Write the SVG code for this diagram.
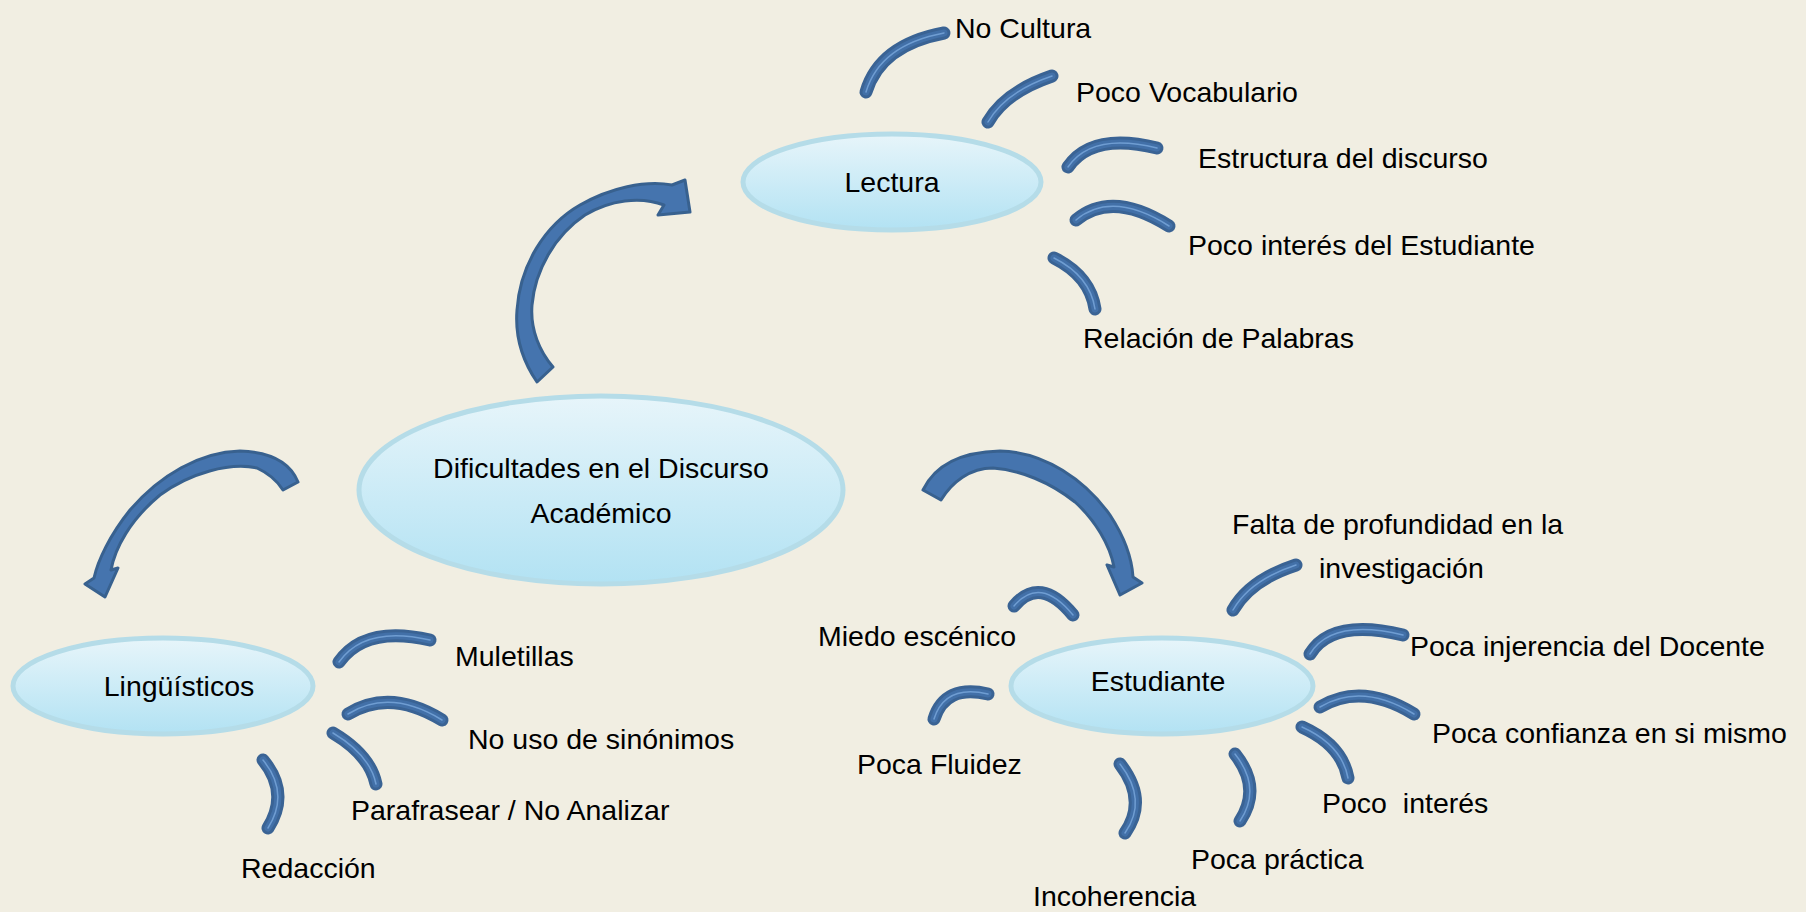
<svg xmlns="http://www.w3.org/2000/svg" width="1806" height="912" viewBox="0 0 1806 912">
<defs>
<linearGradient id="ellg" x1="0" y1="0" x2="0" y2="1">
<stop offset="0" stop-color="#E7F5FA"/>
<stop offset="1" stop-color="#B2E2F3"/>
</linearGradient>
<style>
.node ellipse{fill:url(#ellg);stroke:#B5DCE8;stroke-width:5}
text{font-family:"Liberation Sans",Arial,sans-serif;font-size:28.5px;fill:#000}
.c{text-anchor:middle}
.big{fill:#4574AE;stroke:#38618F;stroke-width:3;stroke-linejoin:round}
.s1{fill:none;stroke:#3A6394;stroke-width:13;stroke-linecap:round}
.s2{fill:none;stroke:#4270A8;stroke-width:7;stroke-linecap:round}
.s3{fill:none;stroke:#6F9DD2;stroke-width:1.5;stroke-linecap:round}
</style>
<g id="small">
<path d="M866,92 Q880,45 944,33"/>
<path d="M988,122 Q1005,92 1052,76"/>
<path d="M1068,167 Q1092,132 1157,148"/>
<path d="M1076,220 Q1112,190 1169,226"/>
<path d="M1054,258 Q1090,276 1095,309"/>
<path d="M339,662 Q365,625 430,640"/>
<path d="M348,714 Q390,688 442,720"/>
<path d="M333,733 Q370,755 376,784"/>
<path d="M263,760 Q290,793 268,828"/>
<path d="M1014,606 Q1040,575 1073,615"/>
<path d="M934,719 Q945,684 988,694"/>
<path d="M1233,610 Q1250,580 1296,565"/>
<path d="M1310,654 Q1332,618 1403,635"/>
<path d="M1320,707 Q1362,682 1414,714"/>
<path d="M1302,727 Q1342,745 1348,778"/>
<path d="M1235,754 Q1262,788 1240,821"/>
<path d="M1120,764 Q1148,800 1125,833"/>
</g>
</defs>
<rect x="0" y="0" width="1806" height="912" fill="#F1EEE2"/>

<g id="connectors">
<path class="big" d="M537,382 C522,360 515,335 517,310 C520,265 545,225 580,205 C610,188 645,180 672,185 L685,180 L690,212 L658,215 L664,205 C640,196 610,200 585,215 C555,235 535,270 532,305 C530,330 540,352 553,367 Z"/>
<path class="big" d="M298,482 C290,462 270,452 240,451 C200,452 160,475 130,510 C110,535 98,560 94,578 L85,584 L105,597 L118,568 L111,570 C115,548 130,520 160,495 C190,473 230,462 257,468 C270,474 278,482 283,490 Z"/>
<path class="big" d="M923,490 C935,465 960,452 1000,451 C1045,452 1085,480 1110,515 C1125,538 1132,560 1133,577 L1142,583 L1120,595 L1107,565 L1114,567 C1110,545 1095,520 1075,502 C1050,482 1020,470 993,468 C970,468 952,482 941,500 Z"/>
<use href="#small" class="s1"/>
<use href="#small" class="s2"/>
<use href="#small" class="s3"/>
</g>

<g id="n-dificultades" class="node">
<ellipse cx="601" cy="490" rx="242" ry="94"/>
<text class="c" x="601" y="478">Dificultades en el Discurso</text>
<text class="c" x="601" y="523">Académico</text>
</g>
<g id="n-lectura" class="node">
<ellipse cx="892" cy="182" rx="149" ry="48"/>
<text class="c" x="892" y="192">Lectura</text>
</g>
<g id="n-linguisticos" class="node">
<ellipse cx="163" cy="686" rx="150" ry="48"/>
<text class="c" x="179" y="696">Lingüísticos</text>
</g>
<g id="n-estudiante" class="node">
<ellipse cx="1162" cy="686" rx="151" ry="48"/>
<text class="c" x="1158" y="691">Estudiante</text>
</g>

<g id="l-nocultura"><text x="955" y="38">No Cultura</text></g>
<g id="l-vocabulario"><text x="1076" y="102">Poco Vocabulario</text></g>
<g id="l-estructura"><text x="1198" y="168">Estructura del discurso</text></g>
<g id="l-interes-est"><text x="1188" y="255">Poco interés del Estudiante</text></g>
<g id="l-relacion"><text x="1083" y="348">Relación de Palabras</text></g>
<g id="l-muletillas"><text x="455" y="666">Muletillas</text></g>
<g id="l-sinonimos"><text x="468" y="749">No uso de sinónimos</text></g>
<g id="l-parafrasear"><text x="351" y="820">Parafrasear / No Analizar</text></g>
<g id="l-redaccion"><text x="241" y="878">Redacción</text></g>
<g id="l-miedo"><text x="818" y="646">Miedo escénico</text></g>
<g id="l-fluidez"><text x="857" y="774">Poca Fluidez</text></g>
<g id="l-falta"><text x="1232" y="534">Falta de profundidad en la</text><text x="1319" y="578">investigación</text></g>
<g id="l-injerencia"><text x="1410" y="656">Poca injerencia del Docente</text></g>
<g id="l-confianza"><text x="1432" y="743">Poca confianza en si mismo</text></g>
<g id="l-pocointeres"><text x="1322" y="813" xml:space="preserve">Poco  interés</text></g>
<g id="l-practica"><text x="1191" y="869">Poca práctica</text></g>
<g id="l-incoherencia"><text x="1033" y="906">Incoherencia</text></g>
</svg>
